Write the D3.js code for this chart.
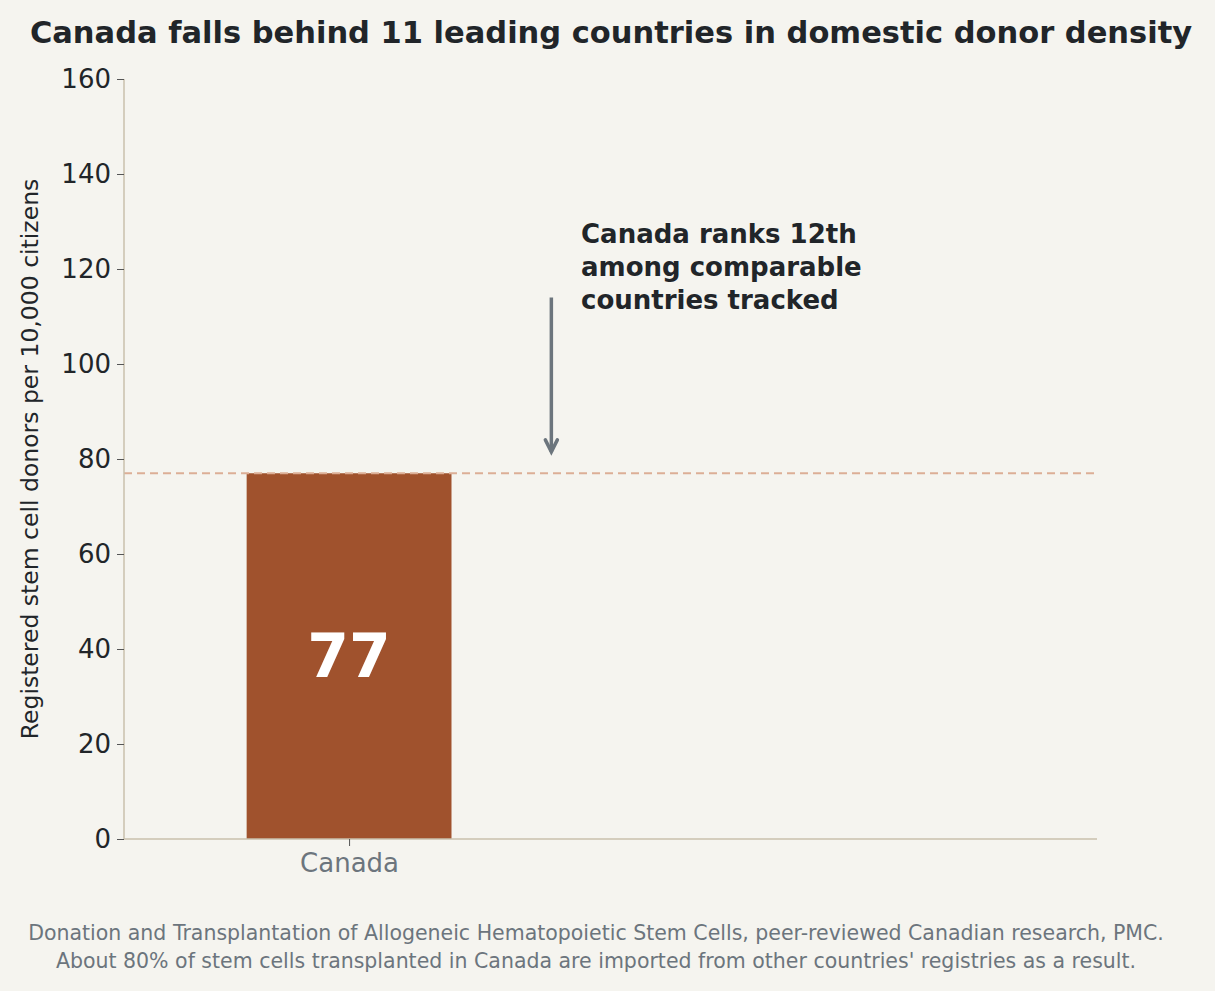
<!DOCTYPE html>
<html><head><meta charset="utf-8">
<script src="https://cdn.jsdelivr.net/npm/d3@7"></script>
<style>body{margin:0;background:#f5f4ef}svg{font-family:"DejaVu Sans",sans-serif}</style>
</head><body>
<svg id="chart" width="1215" height="991"></svg>
<script>
var categories = ["Canada"];
var values = [77];
var yTicks = [0, 20, 40, 60, 80, 100, 120, 140, 160];
var annotationLines = ["Canada ranks 12th", "among comparable", "countries tracked"];
var footerLines = ["Donation and Transplantation of Allogeneic Hematopoietic Stem Cells, peer-reviewed Canadian research, PMC.",
  "About 80% of stem cells transplanted in Canada are imported from other countries' registries as a result."];

var svg = d3.select("#chart");
var mLeft = 124, mRight = 1097, mTop = 79, mBottom = 839;
var x = d3.scaleLinear().domain([-0.879, 2.921]).range([mLeft, mRight]);
var y = d3.scaleLinear().domain([0, 160]).range([mBottom, mTop]);

svg.append("rect").attr("width", 1215).attr("height", 991).attr("fill", "#f5f4ef");

svg.append("text").attr("x", 611).attr("y", 43).attr("text-anchor", "middle")
  .attr("font-size", 30.5).attr("font-weight", "bold").attr("fill", "#212529")
  .text("Canada falls behind 11 leading countries in domestic donor density");

// bars
svg.selectAll(".bar").data(values).enter().append("rect")
  .attr("x", function (d, i) { return x(i - 0.4); })
  .attr("width", x(0.4) - x(-0.4))
  .attr("y", function (d) { return y(d); })
  .attr("height", function (d) { return y(0) - y(d); })
  .attr("fill", "#a0522d");

svg.selectAll(".lbl").data(values).enter().append("text")
  .attr("x", function (d, i) { return x(i); })
  .attr("y", function (d) { return y(d / 2) + 21; })
  .attr("text-anchor", "middle").attr("font-size", 60).attr("font-weight", "bold")
  .attr("fill", "#fff").text(function (d) { return d; });

svg.append("line").attr("x1", mLeft).attr("x2", mRight)
  .attr("y1", y(values[0])).attr("y2", y(values[0]))
  .attr("stroke", "#dcae96").attr("stroke-width", 2).attr("stroke-dasharray", "8,5");

// axes
var ya = svg.append("g").attr("transform", "translate(" + mLeft + ",0)")
  .call(d3.axisLeft(y).tickValues(yTicks).tickSize(7).tickPadding(6));
ya.selectAll("text").attr("font-size", 26).attr("fill", "#212529").attr("font-family", "DejaVu Sans");
var xa = svg.append("g").attr("transform", "translate(0," + mBottom + ")")
  .call(d3.axisBottom(x).tickValues(categories.map(function (c, i) { return i; }))
    .tickFormat(function (d) { return categories[d]; }).tickSize(7).tickPadding(8));
xa.selectAll("text").attr("font-size", 26).attr("fill", "#6c757d").attr("font-family", "DejaVu Sans");
[ya, xa].forEach(function (a) {
  a.select(".domain").attr("stroke", "#c8c0ad").attr("stroke-width", 1.5);
  a.selectAll(".tick line").attr("stroke", "#555");
});
xa.select(".domain").attr("d", "M" + mLeft + ",0H" + mRight);
ya.select(".domain").attr("d", "M0," + mTop + "V" + mBottom);

svg.append("text").attr("transform", "translate(38," + ((mTop + mBottom) / 2) + ") rotate(-90)")
  .attr("text-anchor", "middle").attr("font-size", 23.5).attr("fill", "#212529")
  .text("Registered stem cell donors per 10,000 citizens");

// annotation arrow
var ax = x(0.79);
svg.append("line").attr("x1", ax).attr("x2", ax).attr("y1", y(114)).attr("y2", y(81.5))
  .attr("stroke", "#6c757d").attr("stroke-width", 3.5);
svg.append("path").attr("d", "M" + (ax - 6) + "," + (y(81.5) - 12) + "L" + ax + "," + y(81.5) + "L" + (ax + 6) + "," + (y(81.5) - 12))
  .attr("fill", "none").attr("stroke", "#6c757d").attr("stroke-width", 3.5).attr("stroke-linecap", "round");
svg.selectAll(".ann").data(annotationLines).enter().append("text")
  .attr("x", 581).attr("y", function (d, i) { return 243 + i * 33; })
  .attr("font-size", 26).attr("font-weight", "bold").attr("fill", "#212529").text(function (d) { return d; });

svg.selectAll(".foot").data(footerLines).enter().append("text")
  .attr("x", 596).attr("y", function (d, i) { return 940 + i * 28; })
  .attr("text-anchor", "middle").attr("font-size", 20.5).attr("fill", "#6c757d").text(function (d) { return d; });
</script>
</body></html>
